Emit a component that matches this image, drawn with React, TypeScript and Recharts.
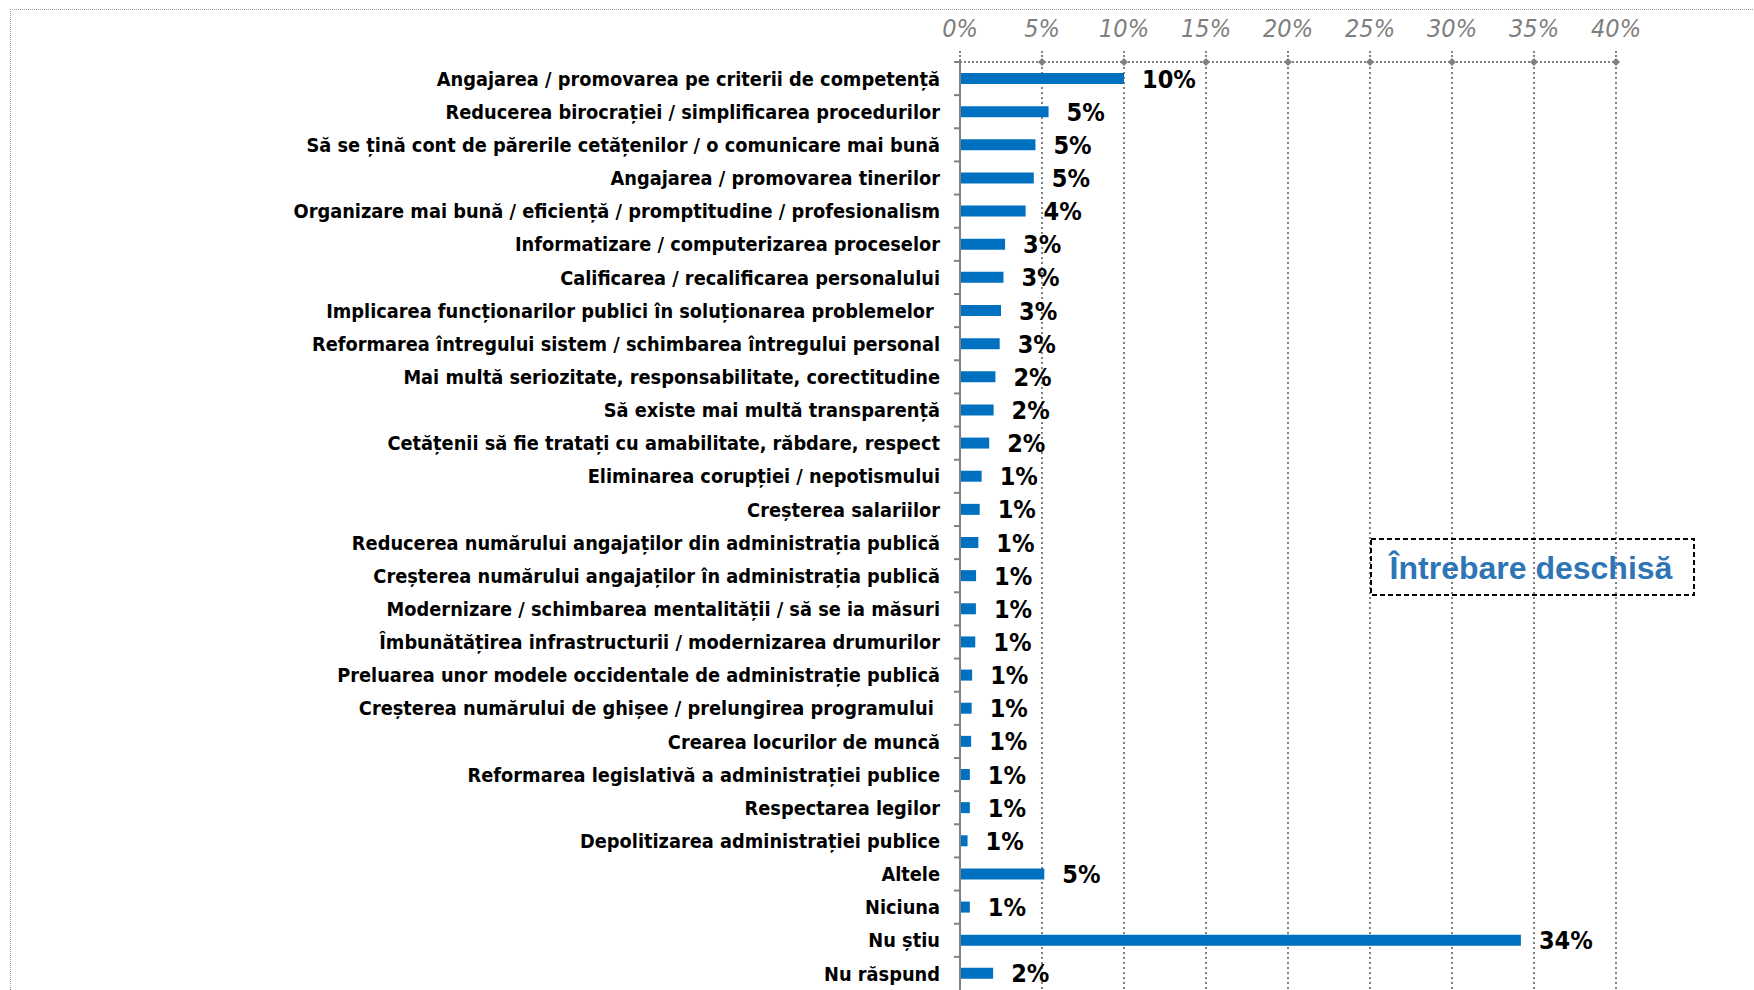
import React from 'react';
import { BarChart, Bar, XAxis, YAxis, CartesianGrid, LabelList } from 'recharts';

const categories = [
  'Angajarea / promovarea pe criterii de competență',
  'Reducerea birocrației / simplificarea procedurilor',
  'Să se țină cont de părerile cetățenilor / o comunicare mai bună',
  'Angajarea / promovarea tinerilor',
  'Organizare mai bună / eficiență / promptitudine / profesionalism',
  'Informatizare / computerizarea proceselor',
  'Calificarea / recalificarea personalului',
  'Implicarea funcționarilor publici în soluționarea problemelor ',
  'Reformarea întregului sistem / schimbarea întregului personal',
  'Mai multă seriozitate, responsabilitate, corectitudine',
  'Să existe mai multă transparență',
  'Cetățenii să fie tratați cu amabilitate, răbdare, respect',
  'Eliminarea corupției / nepotismului',
  'Creșterea salariilor',
  'Reducerea numărului angajaților din administrația publică',
  'Creșterea numărului angajaților în administrația publică',
  'Modernizare / schimbarea mentalității / să se ia măsuri',
  'Îmbunătățirea infrastructurii / modernizarea drumurilor',
  'Preluarea unor modele occidentale de administrație publică',
  'Creșterea numărului de ghișee / prelungirea programului ',
  'Crearea locurilor de muncă',
  'Reformarea legislativă a administrației publice',
  'Respectarea legilor',
  'Depolitizarea administrației publice',
  'Altele',
  'Niciuna',
  'Nu știu',
  'Nu răspund',
];

const values = [
  10.0, 5.4, 4.6, 4.5, 4.0, 2.75, 2.65, 2.5, 2.42, 2.16, 2.05, 1.78,
  1.32, 1.2, 1.12, 0.98, 0.97, 0.93, 0.74, 0.71, 0.68, 0.6, 0.6, 0.46,
  5.14, 0.6, 34.2, 2.02,
];

const valueLabels = [
  '10%', '5%', '5%', '5%', '4%', '3%', '3%', '3%', '3%', '2%', '2%', '2%',
  '1%', '1%', '1%', '1%', '1%', '1%', '1%', '1%', '1%', '1%', '1%', '1%',
  '5%', '1%', '34%', '2%',
];

const xTicks = [0, 5, 10, 15, 20, 25, 30, 35, 40];

const data = categories.map((name, i) => ({ name, value: values[i], label: valueLabels[i] }));

const W = 1754;
const H = 990;
const TOP = 62;
const AXIS_X = 960;
const BAND = (H - TOP) / categories.length;
const GRAY = '#808080';
const BAR = '#0070C0';
const LABEL_FONT = "'DejaVu Sans Condensed', 'DejaVu Sans', sans-serif";

function XTick(props: any) {
  const { x, payload } = props;
  return (
    <g>
      <text
        x={x}
        y={TOP - 25}
        textAnchor="middle"
        fontFamily="'Liberation Sans Narrow', 'DejaVu Sans Condensed', sans-serif"
        fontStyle="italic"
        fontSize={25}
        fill="#7f7f7f"
      >
        {payload.value}%
      </text>
      <line x1={x} x2={x} y1={TOP - 11} y2={TOP} stroke={GRAY} strokeWidth={2} strokeDasharray="2 2" />
      {payload.value > 0 && (
        <path d={`M${x} ${TOP - 4} L${x + 4} ${TOP} L${x} ${TOP + 4} L${x - 4} ${TOP} Z`} fill={GRAY} />
      )}
    </g>
  );
}

function YTick(props: any) {
  const { y, payload } = props;
  return (
    <g>
      <text
        x={AXIS_X - 20}
        y={y}
        dy="0.36em"
        textAnchor="end"
        fontFamily={LABEL_FONT}
        fontWeight="bold"
        fontSize={19.8}
        fill="#000"
        style={{ whiteSpace: 'pre' }}
      >
        {payload.value}
      </text>
      <line x1={AXIS_X - 6} x2={AXIS_X} y1={y - BAND / 2} y2={y - BAND / 2} stroke={GRAY} strokeWidth={2} />
    </g>
  );
}

function ValueLabel(props: any) {
  const { x, y, width, height, value } = props;
  return (
    <text
      x={Number(x) + Number(width) + 18}
      y={Number(y) + Number(height) / 2}
      dy="0.36em"
      textAnchor="start"
      fontFamily={LABEL_FONT}
      fontWeight="bold"
      fontSize={25}
      fill="#000"
    >
      {value}
    </text>
  );
}

export default function App() {
  return (
    <div style={{ position: 'absolute', left: 0, top: 0, width: W, height: H, overflow: 'hidden', background: '#fff' }}>
      <BarChart
        layout="vertical"
        width={W}
        height={H}
        data={data}
        margin={{ top: 0, right: 138, bottom: 0, left: 0 }}
      >
        <CartesianGrid horizontal={false} stroke={GRAY} strokeWidth={2} strokeDasharray="2 3" />
        <XAxis
          type="number"
          orientation="top"
          domain={[0, 40]}
          ticks={xTicks}
          interval={0}
          height={TOP}
          axisLine={{ stroke: GRAY, strokeWidth: 2, strokeDasharray: '2 2' }}
          tickLine={false}
          tick={<XTick />}
        />
        <YAxis
          type="category"
          dataKey="name"
          width={AXIS_X}
          interval={0}
          axisLine={{ stroke: GRAY, strokeWidth: 2 }}
          tickLine={false}
          tick={<YTick />}
        />
        <Bar dataKey="value" fill={BAR} barSize={11} isAnimationActive={false}>
          <LabelList dataKey="label" content={<ValueLabel />} />
        </Bar>
      </BarChart>
      <svg width={W} height={H} style={{ position: 'absolute', left: 0, top: 0, pointerEvents: 'none' }}>
        <line x1={10} y1={9.5} x2={W} y2={9.5} stroke="#9a9a9a" strokeWidth={1} strokeDasharray="1 1" />
        <line x1={10.5} y1={9} x2={10.5} y2={H} stroke="#9a9a9a" strokeWidth={1} strokeDasharray="1 1" />
        <rect x={1371} y={539} width={323} height={56} fill="none" stroke="#000" strokeWidth={2} strokeDasharray="5 3" />
        <text
          x={1531}
          y={579}
          textAnchor="middle"
          fontFamily="'Liberation Sans', Arial, sans-serif"
          fontWeight="bold"
          fontSize={32}
          fill="#2E75B6"
        >
          Întrebare deschisă
        </text>
      </svg>
    </div>
  );
}
